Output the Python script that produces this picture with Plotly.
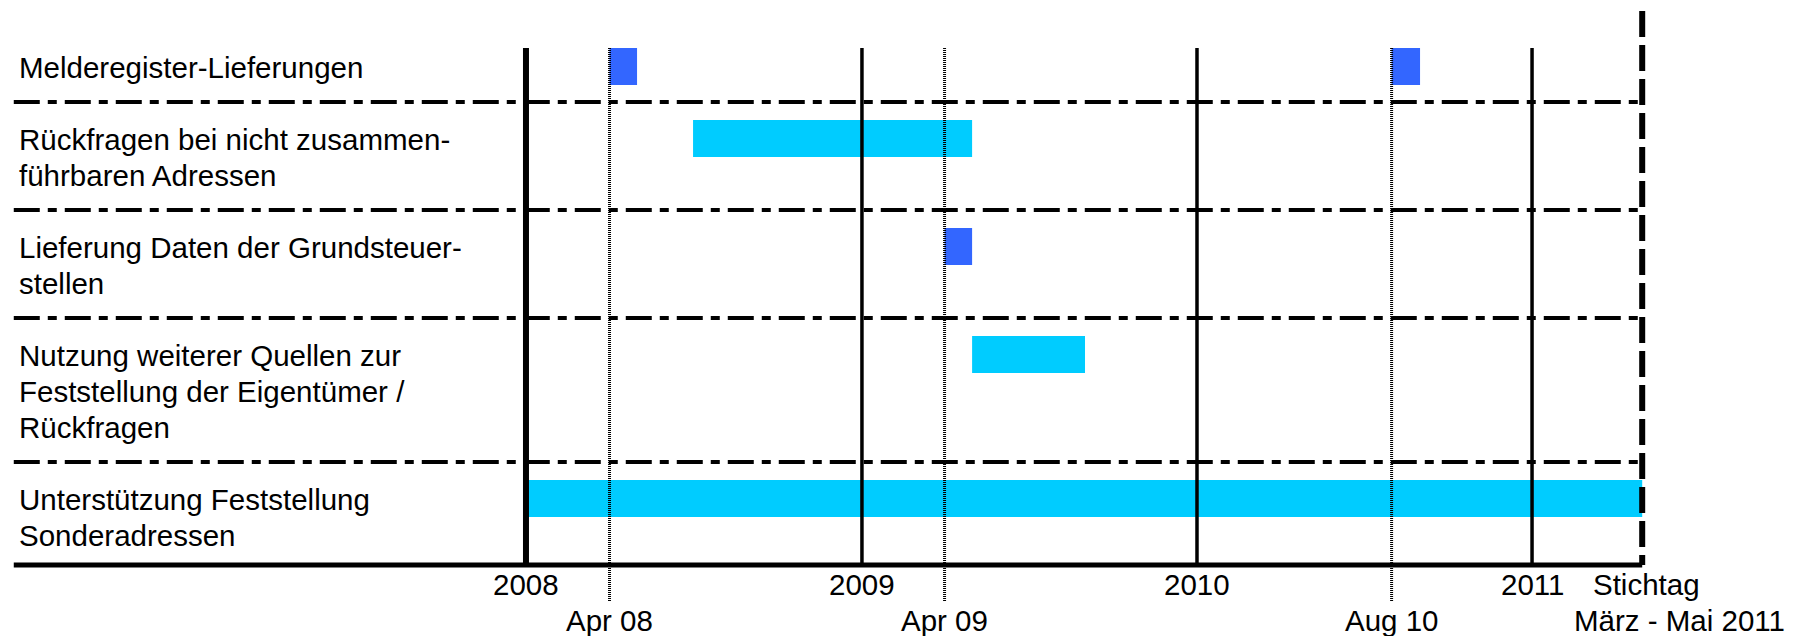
import datetime as dt
import plotly.graph_objects as go

# ---- data -------------------------------------------------------------
row_labels = [
    ["Melderegister-Lieferungen"],
    ["Rückfragen bei nicht zusammen-", "führbaren Adressen"],
    ["Lieferung Daten der Grundsteuer-", "stellen"],
    ["Nutzung weiterer Quellen zur", "Feststellung der Eigentümer /", "Rückfragen"],
    ["Unterstützung Feststellung", "Sonderadressen"],
]

# (row index, start, end)
task_rows = [0, 0, 1, 2, 3, 4]
task_start = ["2008-04-01", "2010-08-01", "2008-07-01", "2009-04-01", "2009-05-01", "2008-01-01"]
task_end = ["2008-05-01", "2010-09-01", "2009-05-01", "2009-05-01", "2009-09-01", "2011-05-01"]
task_kind = ["lieferung", "lieferung", "zeitraum", "lieferung", "zeitraum", "zeitraum"]

year_ticks = ["2008-01-01", "2009-01-01", "2010-01-01", "2011-01-01"]
year_labels = ["2008", "2009", "2010", "2011"]
month_ticks = ["2008-04-01", "2009-04-01", "2010-08-01"]
month_labels = ["Apr 08", "Apr 09", "Aug 10"]
stichtag = "2011-05-01"
stichtag_labels = ["Stichtag", "März - Mai 2011"]

# ---- styling ----------------------------------------------------------
FONT = "Liberation Sans, Arial, sans-serif"
FS = 29.5
colors = {"lieferung": "#3366FF", "zeitraum": "#00CCFF"}

# time scale: pixels per day and where 2008 starts
W, H = 1801, 636
PX_DAY = 0.91788
ORIGIN_PX = 526
origin = dt.date(2008, 1, 1)
x_lo = origin - dt.timedelta(days=ORIGIN_PX / PX_DAY)
x_hi = origin + dt.timedelta(days=(W - ORIGIN_PX) / PX_DAY)
left_edge = origin - dt.timedelta(days=(ORIGIN_PX - 13) / PX_DAY)

# vertical scale in text-line units (36 px each), 0 = top of first row
LINE = 36.0
TOP_PX = 30.0
y_top = -TOP_PX / LINE
y_bot = (H - TOP_PX) / LINE

row_lines = [len(r) for r in row_labels]
row_top = []
acc = 0.0
for n in row_lines:
    row_top.append(acc)
    acc += n + 1
axis_y = row_top[-1] + row_lines[-1] + 0.86
bar_off = 0.5
bar_h = 1.03

fig = go.Figure()

def ms(a, b):
    da = dt.datetime.fromisoformat(a)
    db = dt.datetime.fromisoformat(b)
    return (db - da).total_seconds() * 1000

for r, s, e, k in zip(task_rows, task_start, task_end, task_kind):
    fig.add_trace(go.Bar(
        orientation="h",
        y=[row_top[r] + bar_off + bar_h / 2],
        x=[ms(s, e)],
        base=[s],
        width=bar_h,
        marker=dict(color=colors[k], line=dict(width=0)),
        showlegend=False,
        hoverinfo="skip",
    ))

shapes = []
# row separators
for t in row_top[1:]:
    shapes.append(dict(type="line", xref="x", yref="y",
                       x0=left_edge.isoformat(), x1=stichtag, y0=t, y1=t,
                       line=dict(color="black", width=4, dash="26px,8px,9px,8px")))
# year lines
for i, d in enumerate(year_ticks):
    shapes.append(dict(type="line", xref="x", yref="y", x0=d, x1=d,
                       y0=bar_off, y1=axis_y,
                       line=dict(color="black", width=6 if i == 0 else 3.5)))
# month markers (dotted)
for d in month_ticks:
    shapes.append(dict(type="line", xref="x", yref="y", x0=d, x1=d,
                       y0=bar_off, y1=axis_y + 1.03,
                       line=dict(color="black", width=3, dash="1px,1px")))
# Stichtag
shapes.append(dict(type="line", xref="x", yref="y", x0=stichtag, x1=stichtag,
                   y0=y_top + 11 / LINE, y1=axis_y,
                   line=dict(color="black", width=6, dash="26px,8px")))
# time axis
shapes.append(dict(type="line", xref="x", yref="y",
                   x0=left_edge.isoformat(), x1=stichtag, y0=axis_y, y1=axis_y,
                   line=dict(color="black", width=5)))

txt = dict(family=FONT, size=FS, color="black")
ann = []
for lines, t in zip(row_labels, row_top):
    for i, line in enumerate(lines):
        ann.append(dict(xref="paper", yref="y", x=0, xshift=17,
                        y=t + 1.03 + i, xanchor="left", yanchor="middle",
                        text=line, showarrow=False, font=txt))
for d, lab in zip(year_ticks, year_labels):
    ann.append(dict(xref="x", yref="y", x=d, y=axis_y + 0.55,
                    xanchor="center", yanchor="middle", text=lab,
                    showarrow=False, font=txt))
for d, lab in zip(month_ticks, month_labels):
    ann.append(dict(xref="x", yref="y", x=d, y=axis_y + 1.53,
                    xanchor="center", yanchor="middle", text=lab,
                    showarrow=False, font=txt))
ann.append(dict(xref="x", yref="y", x=stichtag, y=axis_y + 0.55, xshift=4,
                xanchor="center", yanchor="middle", text=stichtag_labels[0],
                showarrow=False, font=txt))
ann.append(dict(xref="x", yref="y", x=stichtag, y=axis_y + 1.53, xshift=37,
                xanchor="center", yanchor="middle", text=stichtag_labels[1],
                showarrow=False, font=txt))

fig.update_layout(
    width=W, height=H,
    margin=dict(l=0, r=0, t=0, b=0),
    paper_bgcolor="white", plot_bgcolor="white",
    barmode="overlay",
    shapes=shapes, annotations=ann,
    xaxis=dict(type="date", range=[x_lo.isoformat(), x_hi.isoformat()],
               visible=False, fixedrange=True),
    yaxis=dict(range=[y_bot, y_top], visible=False, fixedrange=True),
    font=txt,
)

fig.write_html("out.html")
